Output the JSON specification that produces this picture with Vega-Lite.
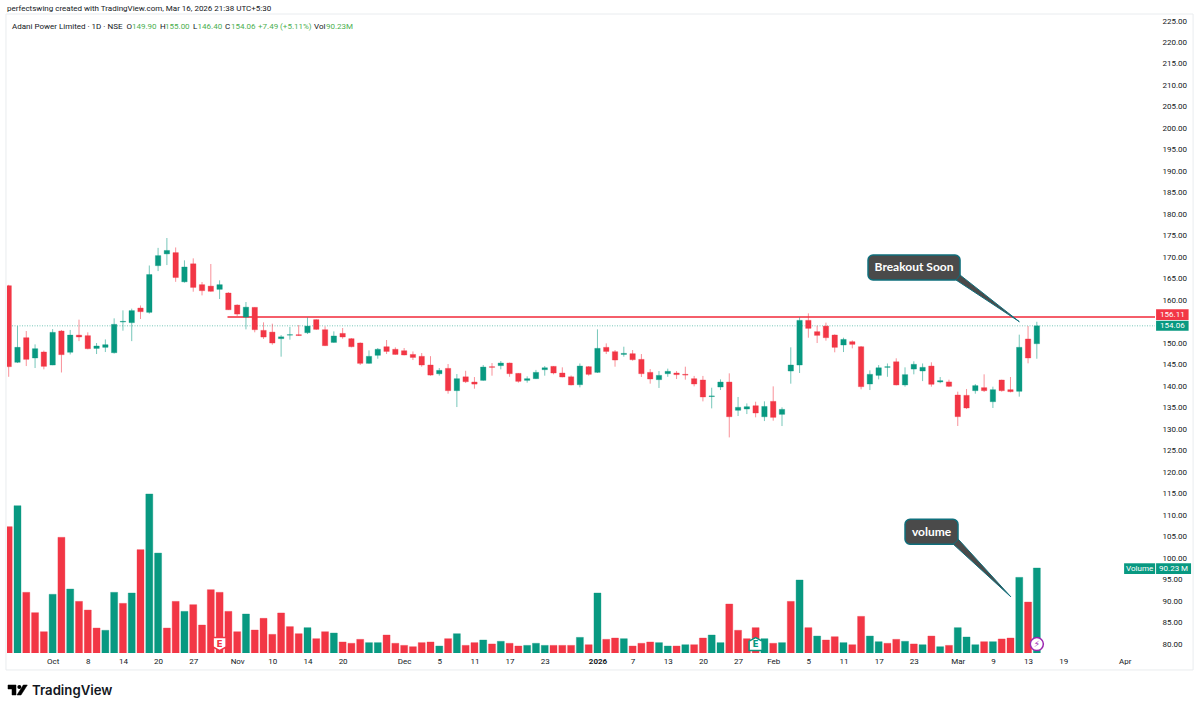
{
  "$schema": "https://vega.github.io/schema/vega-lite/v6.json",
  "width": 1148,
  "height": 639,
  "autosize": {"type": "none"},
  "padding": {"left": 7, "top": 14, "right": 45, "bottom": 57},
  "background": "white",
  "title": {
    "text": "perfectswing created with TradingView.com, Mar 16, 2026 21:38 UTC+5:30",
    "anchor": "start",
    "frame": "group",
    "offset": 1,
    "font": "Roboto",
    "fontSize": 8,
    "fontWeight": "normal",
    "color": "#131722"
  },
  "config": {"view": {"stroke": null}, "font": "Roboto"},
  "datasets": {
    "candles": [
      {"i":0,"o":163.4,"h":163.6,"l":142.2,"c":144.55,"v":134.1,"vd":"down"},
      {"i":1,"o":145.56,"h":154.0,"l":145.4,"c":149.05,"v":156.4,"vd":"up"},
      {"i":2,"o":151.3,"h":152.85,"l":144.7,"c":146.26,"v":64.4,"vd":"down"},
      {"i":3,"o":146.57,"h":149.75,"l":144.24,"c":148.74,"v":42.8,"vd":"down"},
      {"i":4,"o":147.97,"h":148.3,"l":143.93,"c":144.63,"v":22.6,"vd":"down"},
      {"i":5,"o":144.94,"h":153.3,"l":144.9,"c":152.54,"v":62.3,"vd":"up"},
      {"i":6,"o":152.85,"h":153.1,"l":143.2,"c":147.35,"v":122.8,"vd":"down"},
      {"i":7,"o":147.9,"h":153.1,"l":147.4,"c":151.9,"v":67.9,"vd":"up"},
      {"i":8,"o":151.9,"h":155.5,"l":150.5,"c":151.46,"v":54.8,"vd":"down"},
      {"i":9,"o":151.77,"h":152.55,"l":148.6,"c":148.74,"v":45.6,"vd":"down"},
      {"i":10,"o":148.8,"h":150.06,"l":147.5,"c":149.36,"v":26.5,"vd":"down"},
      {"i":11,"o":149.05,"h":150.9,"l":147.96,"c":149.67,"v":24.1,"vd":"up"},
      {"i":12,"o":147.8,"h":155.8,"l":147.6,"c":154.4,"v":64.4,"vd":"up"},
      {"i":13,"o":154.95,"h":157.66,"l":152.93,"c":155.1,"v":52.7,"vd":"down"},
      {"i":14,"o":154.8,"h":158.05,"l":150.5,"c":157.6,"v":63.7,"vd":"up"},
      {"i":15,"o":158.2,"h":158.8,"l":155.65,"c":157.35,"v":109.7,"vd":"down"},
      {"i":16,"o":157.2,"h":168.1,"l":156.9,"c":166.0,"v":168.8,"vd":"up"},
      {"i":17,"o":168.06,"h":172.2,"l":166.8,"c":170.4,"v":106.1,"vd":"up"},
      {"i":18,"o":170.8,"h":174.5,"l":168.2,"c":171.6,"v":26.5,"vd":"down"},
      {"i":19,"o":171.1,"h":172.3,"l":164.3,"c":165.3,"v":54.8,"vd":"down"},
      {"i":20,"o":164.3,"h":169.3,"l":164.1,"c":167.75,"v":44.2,"vd":"up"},
      {"i":21,"o":168.5,"h":169.76,"l":162.0,"c":163.0,"v":51.3,"vd":"down"},
      {"i":22,"o":163.64,"h":164.26,"l":161.15,"c":162.24,"v":29.7,"vd":"down"},
      {"i":23,"o":163.3,"h":168.45,"l":162.0,"c":162.1,"v":67.2,"vd":"down"},
      {"i":24,"o":162.55,"h":164.65,"l":160.3,"c":163.64,"v":64.4,"vd":"down"},
      {"i":25,"o":161.7,"h":161.9,"l":157.74,"c":157.8,"v":44.2,"vd":"down"},
      {"i":26,"o":158.9,"h":159.06,"l":156.35,"c":156.8,"v":22.6,"vd":"down"},
      {"i":27,"o":156.1,"h":159.6,"l":153.24,"c":158.4,"v":41.4,"vd":"up"},
      {"i":28,"o":158.36,"h":158.4,"l":152.55,"c":153.16,"v":24.4,"vd":"down"},
      {"i":29,"o":153.0,"h":154.87,"l":151.0,"c":151.45,"v":36.8,"vd":"down"},
      {"i":30,"o":152.6,"h":154.56,"l":149.67,"c":150.06,"v":19.8,"vd":"down"},
      {"i":31,"o":151.07,"h":151.9,"l":146.88,"c":151.5,"v":42.5,"vd":"down"},
      {"i":32,"o":151.9,"h":153.8,"l":150.84,"c":152.0,"v":28.0,"vd":"down"},
      {"i":33,"o":152.0,"h":154.25,"l":151.7,"c":151.8,"v":20.5,"vd":"down"},
      {"i":34,"o":152.46,"h":156.0,"l":152.15,"c":154.0,"v":26.9,"vd":"up"},
      {"i":35,"o":155.5,"h":155.57,"l":153.1,"c":153.24,"v":15.2,"vd":"down"},
      {"i":36,"o":153.16,"h":153.94,"l":149.36,"c":149.44,"v":22.6,"vd":"down"},
      {"i":37,"o":150.2,"h":152.77,"l":150.14,"c":151.7,"v":21.2,"vd":"up"},
      {"i":38,"o":152.3,"h":153.55,"l":151.07,"c":151.46,"v":11.7,"vd":"down"},
      {"i":39,"o":151.07,"h":151.2,"l":149.05,"c":149.2,"v":10.3,"vd":"down"},
      {"i":40,"o":150.06,"h":150.2,"l":144.94,"c":145.33,"v":14.5,"vd":"down"},
      {"i":41,"o":145.33,"h":148.35,"l":145.25,"c":146.96,"v":11.0,"vd":"up"},
      {"i":42,"o":147.2,"h":148.9,"l":146.4,"c":148.6,"v":11.0,"vd":"up"},
      {"i":43,"o":149.2,"h":150.76,"l":147.5,"c":148.1,"v":19.1,"vd":"down"},
      {"i":44,"o":148.6,"h":149.05,"l":147.34,"c":147.4,"v":10.3,"vd":"down"},
      {"i":45,"o":148.27,"h":148.9,"l":147.2,"c":147.27,"v":8.1,"vd":"down"},
      {"i":46,"o":147.4,"h":148.1,"l":146.1,"c":146.7,"v":6.7,"vd":"down"},
      {"i":47,"o":146.96,"h":147.73,"l":144.55,"c":144.94,"v":11.0,"vd":"down"},
      {"i":48,"o":144.94,"h":147.0,"l":142.46,"c":142.6,"v":11.7,"vd":"down"},
      {"i":49,"o":142.9,"h":144.24,"l":142.46,"c":143.7,"v":7.4,"vd":"up"},
      {"i":50,"o":144.16,"h":145.17,"l":138.27,"c":138.97,"v":15.2,"vd":"down"},
      {"i":51,"o":138.97,"h":142.84,"l":135.16,"c":141.76,"v":20.5,"vd":"up"},
      {"i":52,"o":142.2,"h":143.6,"l":140.75,"c":141.06,"v":8.1,"vd":"down"},
      {"i":53,"o":140.98,"h":142.14,"l":139.43,"c":140.5,"v":11.0,"vd":"down"},
      {"i":54,"o":141.37,"h":144.94,"l":141.3,"c":144.47,"v":13.8,"vd":"up"},
      {"i":55,"o":144.55,"h":145.4,"l":142.46,"c":144.4,"v":9.6,"vd":"down"},
      {"i":56,"o":144.8,"h":145.87,"l":143.93,"c":145.4,"v":12.4,"vd":"up"},
      {"i":57,"o":145.4,"h":145.5,"l":142.2,"c":142.92,"v":10.3,"vd":"down"},
      {"i":58,"o":143.0,"h":143.08,"l":140.83,"c":141.14,"v":7.4,"vd":"down"},
      {"i":59,"o":141.37,"h":142.3,"l":140.83,"c":141.76,"v":8.1,"vd":"up"},
      {"i":60,"o":141.76,"h":143.8,"l":141.68,"c":143.23,"v":10.3,"vd":"up"},
      {"i":61,"o":143.85,"h":144.7,"l":142.46,"c":144.3,"v":8.1,"vd":"up"},
      {"i":62,"o":144.63,"h":144.7,"l":142.77,"c":143.08,"v":8.1,"vd":"down"},
      {"i":63,"o":143.08,"h":144.4,"l":142.07,"c":142.15,"v":8.1,"vd":"down"},
      {"i":64,"o":142.2,"h":142.5,"l":140.2,"c":140.3,"v":8.1,"vd":"down"},
      {"i":65,"o":140.36,"h":145.3,"l":139.74,"c":144.7,"v":16.6,"vd":"up"},
      {"i":66,"o":144.55,"h":144.7,"l":142.46,"c":142.77,"v":8.8,"vd":"down"},
      {"i":67,"o":143.23,"h":153.24,"l":143.08,"c":148.82,"v":63.7,"vd":"up"},
      {"i":68,"o":149.05,"h":149.98,"l":147.5,"c":148.1,"v":14.5,"vd":"down"},
      {"i":69,"o":148.04,"h":148.43,"l":144.55,"c":146.1,"v":15.9,"vd":"down"},
      {"i":70,"o":147.4,"h":149.2,"l":146.88,"c":147.65,"v":15.2,"vd":"up"},
      {"i":71,"o":147.58,"h":148.43,"l":145.95,"c":146.18,"v":7.4,"vd":"down"},
      {"i":72,"o":146.26,"h":147.5,"l":142.15,"c":142.92,"v":10.3,"vd":"down"},
      {"i":73,"o":143.23,"h":144.0,"l":140.6,"c":141.68,"v":11.7,"vd":"down"},
      {"i":74,"o":141.53,"h":143.54,"l":139.6,"c":142.53,"v":11.0,"vd":"up"},
      {"i":75,"o":142.92,"h":144.1,"l":142.2,"c":143.47,"v":7.4,"vd":"up"},
      {"i":76,"o":143.08,"h":143.54,"l":141.68,"c":142.7,"v":7.4,"vd":"down"},
      {"i":77,"o":142.77,"h":144.55,"l":141.53,"c":142.6,"v":8.8,"vd":"up"},
      {"i":78,"o":141.76,"h":142.4,"l":139.97,"c":140.52,"v":8.8,"vd":"down"},
      {"i":79,"o":141.45,"h":142.4,"l":136.48,"c":137.5,"v":15.9,"vd":"down"},
      {"i":80,"o":137.6,"h":139.66,"l":134.85,"c":137.75,"v":19.1,"vd":"up"},
      {"i":81,"o":139.82,"h":141.6,"l":139.12,"c":140.98,"v":11.0,"vd":"up"},
      {"i":82,"o":140.98,"h":143.0,"l":128.1,"c":132.9,"v":52.0,"vd":"down"},
      {"i":83,"o":134.4,"h":137.5,"l":133.07,"c":135.09,"v":24.1,"vd":"down"},
      {"i":84,"o":134.7,"h":136.0,"l":133.53,"c":135.24,"v":15.2,"vd":"down"},
      {"i":85,"o":135.47,"h":136.4,"l":132.76,"c":133.77,"v":26.9,"vd":"down"},
      {"i":86,"o":132.9,"h":136.48,"l":131.9,"c":135.3,"v":15.2,"vd":"up"},
      {"i":87,"o":136.48,"h":139.97,"l":131.98,"c":132.76,"v":10.3,"vd":"down"},
      {"i":88,"o":133.46,"h":135.09,"l":130.74,"c":134.62,"v":11.0,"vd":"up"},
      {"i":89,"o":143.54,"h":149.05,"l":140.6,"c":144.94,"v":54.8,"vd":"down"},
      {"i":90,"o":144.94,"h":156.03,"l":143.08,"c":155.33,"v":77.5,"vd":"up"},
      {"i":91,"o":155.33,"h":156.96,"l":151.3,"c":153.47,"v":26.9,"vd":"down"},
      {"i":92,"o":152.7,"h":154.1,"l":150.06,"c":151.84,"v":18.0,"vd":"up"},
      {"i":93,"o":154.0,"h":154.8,"l":150.6,"c":151.3,"v":13.8,"vd":"down"},
      {"i":94,"o":151.92,"h":152.08,"l":147.9,"c":149.05,"v":17.3,"vd":"down"},
      {"i":95,"o":149.6,"h":151.3,"l":147.96,"c":150.9,"v":11.0,"vd":"up"},
      {"i":96,"o":150.37,"h":150.68,"l":148.82,"c":149.75,"v":8.8,"vd":"down"},
      {"i":97,"o":149.2,"h":149.36,"l":139.28,"c":139.9,"v":38.9,"vd":"down"},
      {"i":98,"o":140.52,"h":143.7,"l":139.12,"c":142.77,"v":18.0,"vd":"up"},
      {"i":99,"o":142.53,"h":144.94,"l":141.6,"c":144.3,"v":12.0,"vd":"up"},
      {"i":100,"o":144.4,"h":145.3,"l":142.2,"c":144.55,"v":10.3,"vd":"down"},
      {"i":101,"o":145.7,"h":146.5,"l":140.2,"c":140.3,"v":14.5,"vd":"down"},
      {"i":102,"o":140.3,"h":144.4,"l":139.9,"c":142.7,"v":12.4,"vd":"up"},
      {"i":103,"o":144.0,"h":145.8,"l":142.77,"c":145.1,"v":9.6,"vd":"down"},
      {"i":104,"o":143.55,"h":145.3,"l":141.2,"c":144.4,"v":8.8,"vd":"up"},
      {"i":105,"o":144.7,"h":145.57,"l":139.9,"c":140.45,"v":18.0,"vd":"down"},
      {"i":106,"o":141.0,"h":142.15,"l":140.7,"c":141.3,"v":6.7,"vd":"up"},
      {"i":107,"o":141.0,"h":141.53,"l":139.8,"c":139.98,"v":8.1,"vd":"down"},
      {"i":108,"o":137.96,"h":138.74,"l":130.75,"c":132.92,"v":26.9,"vd":"up"},
      {"i":109,"o":137.88,"h":139.36,"l":134.7,"c":134.94,"v":17.0,"vd":"up"},
      {"i":110,"o":138.97,"h":140.5,"l":138.27,"c":140.14,"v":8.8,"vd":"up"},
      {"i":111,"o":139.67,"h":142.77,"l":138.66,"c":138.97,"v":12.0,"vd":"down"},
      {"i":112,"o":136.4,"h":139.9,"l":134.94,"c":139.2,"v":12.0,"vd":"up"},
      {"i":113,"o":141.45,"h":141.53,"l":138.74,"c":138.97,"v":14.9,"vd":"down"},
      {"i":114,"o":139.2,"h":142.15,"l":138.58,"c":138.74,"v":15.9,"vd":"down"},
      {"i":115,"o":138.82,"h":152.0,"l":137.58,"c":149.06,"v":80.3,"vd":"up"},
      {"i":116,"o":151.0,"h":154.0,"l":145.33,"c":146.57,"v":54.1,"vd":"down"},
      {"i":117,"o":149.9,"h":155.0,"l":146.4,"c":154.06,"v":90.23,"vd":"up"}
    ],
    "header": [
      {"i":0.38,"p":223.6,"text":"Adani Power Limited · 1D · NSE","kind":"name"},
      {"i":13.41,"p":223.6,"text":"O","kind":"name"},
      {"i":14.03,"p":223.6,"text":"149.90","kind":"value"},
      {"i":17.22,"p":223.6,"text":"H","kind":"name"},
      {"i":17.79,"p":223.6,"text":"155.00","kind":"value"},
      {"i":20.97,"p":223.6,"text":"L","kind":"name"},
      {"i":21.49,"p":223.6,"text":"146.40","kind":"value"},
      {"i":24.62,"p":223.6,"text":"C","kind":"name"},
      {"i":25.3,"p":223.6,"text":"154.06","kind":"value"},
      {"i":28.37,"p":223.6,"text":"+7.49 (+5.11%)","kind":"value"},
      {"i":34.74,"p":223.6,"text":"Vol","kind":"name"},
      {"i":36.11,"p":223.6,"text":"90.23M","kind":"value"}
    ],
    "badges": [
      {"i":130.57,"i2":134.27,"p":157.91,"p2":155.42,"label":"156.11","kind":"down"},
      {"i":130.57,"i2":134.27,"p":155.25,"p2":152.93,"label":"154.06","kind":"up"},
      {"i":126.93,"i2":130.46,"p":98.8,"p2":96.31,"label":"Volume","kind":"up"},
      {"i":130.57,"i2":134.55,"p":98.8,"p2":96.31,"label":"90.23 M","kind":"up"}
    ],
    "callouts": [
      {"i":97.79,"i2":108.26,"p":170.54,"p2":164.73,"label":"Breakout Soon"},
      {"i":102.0,"i2":108.03,"p":109.04,"p2":103.22,"label":"volume"}
    ],
    "pointers": [
      {"g":"breakout","n":1,"i":107.8,"p":164.73},
      {"g":"breakout","n":2,"i":108.26,"p":165.89},
      {"g":"breakout","n":3,"i":115.01,"p":155.02},
      {"g":"breakout","n":4,"i":107.8,"p":164.73},
      {"g":"volume","n":1,"i":107.5,"p":103.22},
      {"g":"volume","n":2,"i":108.07,"p":104.38},
      {"g":"volume","n":3,"i":114.03,"p":91.02},
      {"g":"volume","n":4,"i":107.5,"p":103.22}
    ],
    "events": [
      {"i":24,"p":80,"kind":"earnings_past","label":"E"},
      {"i":85,"p":80,"kind":"earnings_next","label":"E"},
      {"i":117,"p":80,"kind":"news","label":"⚡"}
    ],
    "logo": [
      {"g":"t","n":1,"i":-0.08,"p":70.47},
      {"g":"t","n":2,"i":0.83,"p":70.47},
      {"g":"t","n":3,"i":0.83,"p":68.15},
      {"g":"t","n":4,"i":0.376,"p":68.15},
      {"g":"t","n":5,"i":0.376,"p":69.54},
      {"g":"t","n":6,"i":-0.08,"p":69.54},
      {"g":"t","n":7,"i":-0.08,"p":70.47},
      {"g":"v","n":1,"i":1.66,"p":70.47},
      {"g":"v","n":2,"i":2.12,"p":70.47},
      {"g":"v","n":3,"i":1.4,"p":68.15},
      {"g":"v","n":4,"i":0.945,"p":68.15},
      {"g":"v","n":5,"i":1.66,"p":70.47}
    ]
  },
  "encoding": {
    "x": {
      "field": "i",
      "type": "quantitative",
      "scale": {"domain": [-0.1935, 130.4465], "nice": false, "zero": false, "padding": 0},
      "axis": {
        "title": null,
        "grid": false,
        "domain": false,
        "ticks": false,
        "labelFont": "Roboto",
        "labelFontSize": 8,
        "labelColor": "#131722",
        "labelPadding": 4,
        "labelFlush": false,
        "labelOverlap": false,
        "values": [5,9,13,17,21,26,30,34,38,45,49,53,57,61,67,71,75,79,83,87,91,95,99,103,108,112,116,120,127],
        "labelFontWeight": {"expr": "datum.value == 67 ? 'bold' : 'normal'"},
        "labelExpr": "{'5':'Oct','9':'8','13':'14','17':'20','21':'27','26':'Nov','30':'10','34':'14','38':'20','45':'Dec','49':'5','53':'11','57':'17','61':'23','67':'2026','71':'7','75':'13','79':'20','83':'27','87':'Feb','91':'5','95':'11','99':'17','103':'23','108':'Mar','112':'9','116':'13','120':'19','127':'Apr'}[datum.value]"
      }
    }
  },
  "layer": [
    {
      "data": {"name": "candles"},
      "mark": {"type": "bar", "orient": "vertical", "size": 7, "clip": true, "strokeWidth": 1, "strokeOpacity": 0.35},
      "encoding": {
        "y": {
          "field": "v",
          "type": "quantitative",
          "stack": null,
          "scale": {"domain": [0, 678.3], "nice": false},
          "axis": null
        },
        "color": {
          "field": "vd",
          "type": "nominal",
          "scale": {"domain": ["up", "down"], "range": ["#089981", "#F23645"]},
          "legend": null
        },
        "stroke": {"condition": {"test": "datum.vd == 'up'", "value": "#089981"}, "value": "#F23645"}
      }
    },
    {
      "resolve": {"scale": {"color": "independent"}},
      "encoding": {
        "y": {
          "field": "p",
          "type": "quantitative",
          "scale": {"domain": [77.92, 226.63], "nice": false, "zero": false},
          "axis": {
            "title": null,
            "orient": "right",
            "grid": false,
            "domain": false,
            "ticks": false,
            "labelFont": "Roboto",
            "labelFontSize": 8,
            "labelColor": "#131722",
            "labelPadding": 7,
            "labelOverlap": false,
            "format": ".2f",
            "values": [80,85,90,95,100,105,110,115,120,125,130,135,140,145,150,160,165,170,175,180,185,190,195,200,205,210,215,220,225]
          }
        }
      },
      "layer": [
        {
          "data": {"values": [{"i": -0.31, "i2": 134.78, "p": 226.63, "p2": 73.97}]},
          "mark": {"type": "rect", "fill": "transparent", "stroke": "#e9ecef", "strokeWidth": 1},
          "encoding": {"x2": {"field": "i2"}, "y2": {"field": "p2"}}
        },
        {
          "data": {"values": [{"i": -0.1935, "i2": 130.4465, "p": 154.06}]},
          "mark": {"type": "rule", "color": "#089981", "opacity": 0.55, "strokeWidth": 1, "strokeDash": [1, 1.5]},
          "encoding": {"x2": {"field": "i2"}}
        },
        {
          "data": {"values": [{"i": 24.9, "i2": 130.4465, "p": 156.11}]},
          "mark": {"type": "rule", "color": "#F23645", "opacity": 0.8, "strokeWidth": 2},
          "encoding": {"x2": {"field": "i2"}}
        },
        {
          "data": {"name": "candles"},
          "mark": {"type": "rule", "strokeWidth": 1, "opacity": 0.55, "clip": true},
          "encoding": {
            "y": {"field": "l", "type": "quantitative"},
            "y2": {"field": "h"},
            "color": {"condition": {"test": "datum.c >= datum.o", "value": "#089981"}, "value": "#F23645"}
          }
        },
        {
          "data": {"name": "candles"},
          "mark": {"type": "bar", "orient": "vertical", "size": 5.4, "clip": true, "strokeWidth": 1, "strokeOpacity": 0.35},
          "encoding": {
            "y": {"field": "o", "type": "quantitative", "stack": null},
            "y2": {"field": "c"},
            "color": {"condition": {"test": "datum.c >= datum.o", "value": "#089981"}, "value": "#F23645"},
            "stroke": {"condition": {"test": "datum.c >= datum.o", "value": "#089981"}, "value": "#F23645"}
          }
        },
        {
          "data": {"name": "events"},
          "mark": {"type": "point", "filled": true, "fill": "white", "size": 170, "strokeWidth": 1.5, "opacity": 1},
          "encoding": {
            "shape": {
              "field": "kind",
              "type": "nominal",
              "scale": {
                "domain": ["earnings_past", "earnings_next", "news"],
                "range": ["M-1,-1H1V0.45L0,1L-1,0.45Z", "M-1,1H1V-0.45L0,-1L-1,-0.45Z", "circle"]
              },
              "legend": null
            },
            "stroke": {
              "field": "kind",
              "type": "nominal",
              "scale": {
                "domain": ["earnings_past", "earnings_next", "news"],
                "range": ["#F23645", "#089981", "#9C27B0"]
              },
              "legend": null
            }
          }
        },
        {
          "data": {"name": "events"},
          "mark": {"type": "text", "fontSize": 9, "font": "DejaVu Sans", "fontWeight": "bold"},
          "encoding": {
            "text": {"field": "label"},
            "color": {
              "field": "kind",
              "type": "nominal",
              "scale": {
                "domain": ["earnings_past", "earnings_next", "news"],
                "range": ["#F23645", "#089981", "#9C27B0"]
              },
              "legend": null
            }
          }
        },
        {
          "data": {"name": "callouts"},
          "mark": {"type": "rect", "fill": "#4a4a4a", "stroke": "#0f6f7c", "strokeWidth": 1.5, "cornerRadius": 5},
          "encoding": {"x2": {"field": "i2"}, "y2": {"field": "p2"}}
        },
        {
          "data": {"name": "pointers"},
          "mark": {"type": "line", "fill": "#4a4a4a", "stroke": "#0f6f7c", "strokeWidth": 1},
          "encoding": {"detail": {"field": "g"}, "order": {"field": "n"}}
        },
        {
          "data": {"name": "callouts"},
          "transform": [
            {"calculate": "(datum.i + datum.i2) / 2", "as": "mid"},
            {"calculate": "(datum.p + datum.p2) / 2", "as": "midp"}
          ],
          "mark": {"type": "text", "font": "Lato", "fontSize": 12, "fontWeight": "bold", "color": "white"},
          "encoding": {
            "x": {"field": "mid", "type": "quantitative"},
            "y": {"field": "midp", "type": "quantitative"},
            "text": {"field": "label"}
          }
        },
        {
          "data": {"name": "badges"},
          "mark": {"type": "rect"},
          "encoding": {
            "x2": {"field": "i2"},
            "y2": {"field": "p2"},
            "fill": {
              "field": "kind",
              "type": "nominal",
              "scale": {"domain": ["up", "down"], "range": ["#089981", "#F23645"]},
              "legend": null
            }
          }
        },
        {
          "data": {"name": "badges"},
          "transform": [
            {"calculate": "(datum.i + datum.i2) / 2", "as": "mid"},
            {"calculate": "(datum.p + datum.p2) / 2", "as": "midp"}
          ],
          "mark": {"type": "text", "font": "Roboto", "fontSize": 8, "color": "white"},
          "encoding": {
            "x": {"field": "mid", "type": "quantitative"},
            "y": {"field": "midp", "type": "quantitative"},
            "text": {"field": "label"}
          }
        },
        {
          "data": {"name": "header"},
          "mark": {"type": "text", "align": "left", "font": "Roboto", "fontSize": 8},
          "encoding": {
            "text": {"field": "text"},
            "color": {
              "field": "kind",
              "type": "nominal",
              "scale": {"domain": ["name", "value"], "range": ["#131722", "#4CAF50"]},
              "legend": null
            }
          }
        },
        {
          "data": {"name": "logo"},
          "mark": {"type": "line", "fill": "black", "stroke": "black", "strokeWidth": 0.5},
          "encoding": {"detail": {"field": "g"}, "order": {"field": "n"}}
        },
        {
          "data": {"values": [{"i": 1.21, "p": 70.0}]},
          "mark": {"type": "circle", "size": 16, "color": "black", "opacity": 1}
        },
        {
          "data": {"values": [{"i": 2.65, "p": 69.1, "label": "TradingView"}]},
          "mark": {"type": "text", "align": "left", "font": "Inter", "fontSize": 13.2, "fontWeight": 600, "color": "#131722"},
          "encoding": {"text": {"field": "label"}}
        }
      ]
    }
  ],
  "resolve": {"scale": {"y": "independent", "color": "independent"}}
}
